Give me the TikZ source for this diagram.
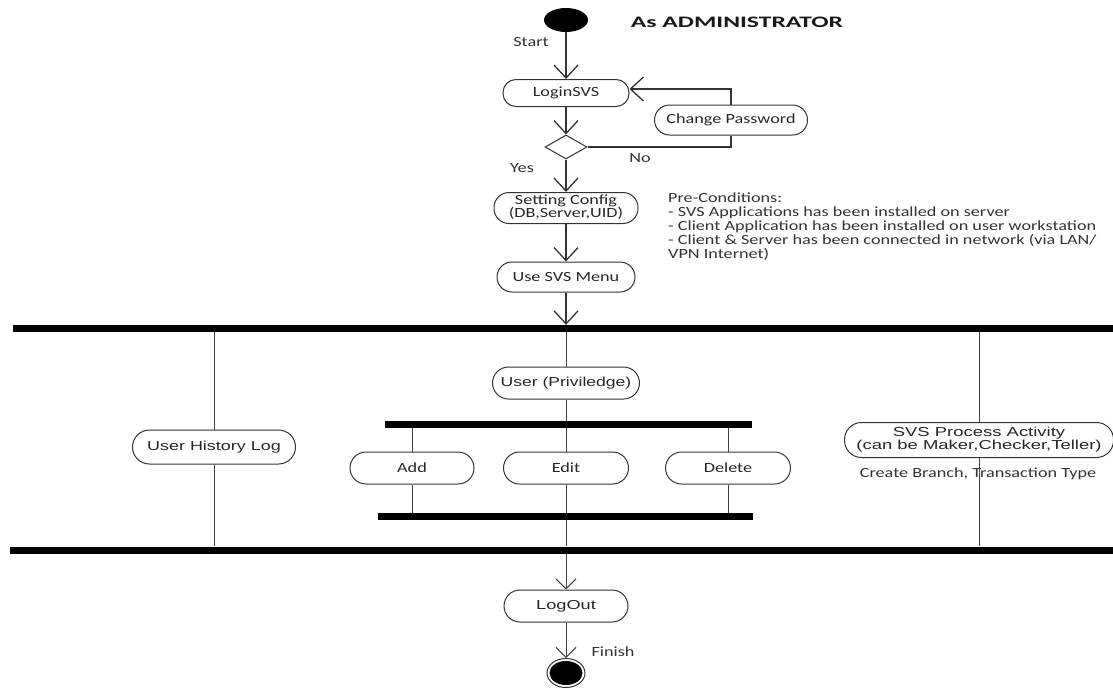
\documentclass[tikz,border=0pt]{standalone}
\usepackage{fontspec}
\usepackage{graphicx}
\newfontfamily\calib{Carlito}
\newfontfamily\arialf{Liberation Sans}
\usetikzlibrary{shapes.geometric,arrows.meta,calc}
\newcommand\wide[2][1.3]{\scalebox{#1}[1]{#2}}
\begin{document}
\begin{tikzpicture}[x=1pt,y=-1pt,
 act/.style={draw=black!80, line width=1pt, inner sep=0pt, text=black!85},
 cal/.style={font=\calib\fontsize{14}{13}\selectfont},
 ari/.style={font=\arialf\fontsize{13}{13}\selectfont},
 bar/.style={fill=black, inner sep=0pt, minimum height=7pt},
 flow/.style={draw=black!80, line width=1.3pt},
 arr/.style={flow, -{Straight Barb[length=13pt,width=24pt,line width=1.3pt]}},
 thinl/.style={draw=black!75, line width=1pt},
 tarr/.style={thinl, -{Straight Barb[length=10pt,width=20pt,line width=1pt]}},
 lbl/.style={cal, text=black!80, inner sep=0pt}]
\useasboundingbox (0,0) rectangle (1113,688);

% start / end
\node[ellipse, fill=black, minimum width=44pt, minimum height=24pt, inner sep=0pt] (start) at (566,20) {};
\node[ellipse, draw=black!80, line width=1pt, minimum width=38pt, minimum height=29pt, inner sep=0pt] (end) at (566,673) {};
\node[ellipse, fill=black, minimum width=33pt, minimum height=24pt, inner sep=0pt] (endin) at (566,673) {};

% title
\node[font=\calib\bfseries\fontsize{16}{18}\selectfont, text=black!90, inner sep=0pt] (title) at (737,22) {\wide[1.6]{As ADMINISTRATOR}};

% upper flow
\node[act, cal, minimum width=126pt, minimum height=27pt, rounded corners=13pt] (login) at (566,93) {\wide{LoginSVS}};
\node[act, cal, minimum width=153pt, minimum height=30pt, rounded corners=15pt] (cp) at (731,120) {\wide{Change Password}};
\node[diamond, draw=black!80, line width=1pt, minimum width=42pt, minimum height=24pt, inner sep=0pt] (dec) at (566,147) {};
\node[act, font=\calib\fontsize{14}{11}\selectfont, minimum width=144pt, minimum height=31pt, rounded corners=15pt] (cfg) at (566,208) {\wide{\begin{tabular}{@{}c@{}}Setting Config\\(DB,Server,UID)\end{tabular}}};
\node[act, cal, minimum width=138pt, minimum height=30pt, rounded corners=15pt] (menu) at (566,277) {\wide{Use SVS Menu}};

\node[lbl] (lstart) at (531,42) {\wide{Start}};
\node[lbl] (lyes) at (522,168) {\wide{Yes}};
\node[lbl] (lno) at (640,158) {\wide{No}};

\node[lbl, anchor=north west] (pre) at (668,193) {\wide{\begin{tabular}{@{}l@{}}Pre-Conditions:\\- SVS Applications has been installed on server\\- Client Application has been installed on user workstation\\- Client \& Server has been connected in network (via LAN/\\VPN Internet)\end{tabular}}};

% bars
\node[bar, minimum width=1100pt] (topbar) at (563,328.5) {};
\node[bar, minimum width=1103pt] (botbar) at (561.5,550) {};
\node[bar, minimum width=367pt] (itop) at (568.5,424.5) {};
\node[bar, minimum width=375pt] (ibot) at (565.5,516.5) {};

% lower nodes
\node[act, ari, minimum width=147pt, minimum height=32pt, rounded corners=16pt] (priv) at (566,383) {\wide[1.35]{User (Priviledge)}};
\node[act, ari, minimum width=163pt, minimum height=34pt, rounded corners=17pt] (hist) at (214,447) {\wide[1.38]{User History Log}};
\node[act, ari, minimum width=269pt, minimum height=35pt, rounded corners=17pt] (svs) at (979,440) {\wide[1.42]{\begin{tabular}{@{}c@{}}SVS Process Activity\\(can be Maker,Checker,Teller)\end{tabular}}};
\node[lbl] (create) at (978,474) {\wide{Create Branch, Transaction Type}};
\node[act, cal, minimum width=124pt, minimum height=32pt, rounded corners=16pt] (add) at (412,468) {\wide{Add}};
\node[act, cal, minimum width=125pt, minimum height=32pt, rounded corners=16pt] (edit) at (566,468) {\wide{Edit}};
\node[act, cal, minimum width=125pt, minimum height=32pt, rounded corners=16pt] (del) at (728,468) {\wide{Delete}};
\node[act, font=\arialf\fontsize{13}{13}\selectfont, minimum width=124pt, minimum height=32pt, rounded corners=16pt] (logout) at (566,606) {\wide[1.4]{LogOut}};
\node[lbl] (lfinish) at (613,652) {\wide{Finish}};

% upper connectors
\draw[arr] (start.south) -- (login.north);
\draw[arr] (login.south) -- (dec.north);
\draw[flow] (dec.east) -| (cp.south);
\draw[arr] (cp.north) |- ($(login.east)+(0,-4)$);
\draw[arr] (dec.south) -- (cfg.north);
\draw[arr] (cfg.south) -- (menu.north);
\draw[arr] (menu.south) -- (menu.south |- topbar.north);

% fork region
\draw[thinl] (priv.north |- topbar.south) -- (priv.north);
\draw[thinl] (priv.south) -- (priv.south |- itop.north);
\draw[thinl] (hist.north |- topbar.south) -- (hist.north);
\draw[thinl] (hist.south) -- (hist.south |- botbar.north);
\draw[thinl] (svs.north |- topbar.south) -- (svs.north);
\draw[thinl] (svs.south) -- (svs.south |- botbar.north);
\draw[thinl] (add.north |- itop.south) -- (add.north);
\draw[thinl] (edit.north |- itop.south) -- (edit.north);
\draw[thinl] (del.north |- itop.south) -- (del.north);
\draw[thinl] (add.south) -- (add.south |- ibot.north);
\draw[thinl] (edit.south) -- (edit.south |- ibot.north);
\draw[thinl] (del.south) -- (del.south |- ibot.north);
\draw[thinl] (edit.south |- ibot.south) -- (edit.south |- botbar.north);

% end connectors
\draw[tarr] (logout.north |- botbar.south) -- (logout.north);
\draw[tarr] (logout.south) -- (end.north);
\end{tikzpicture}
\end{document}
